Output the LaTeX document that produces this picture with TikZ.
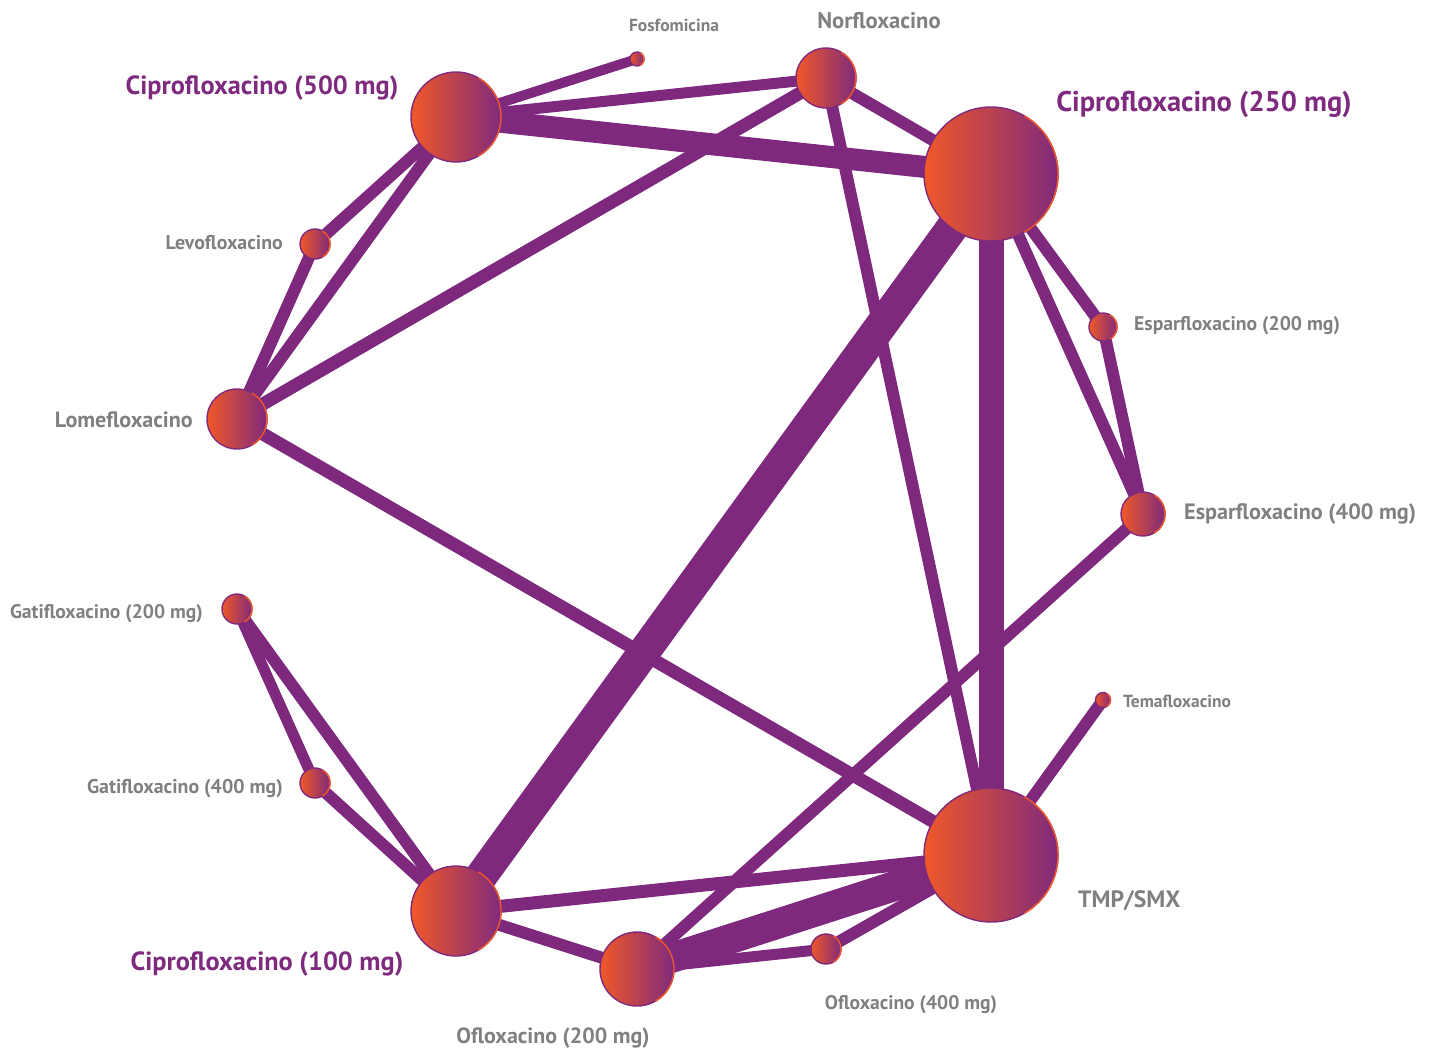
\documentclass[tikz,border=0pt]{standalone}
\usepackage{fontspec}
\setmainfont{PT Sans}
\usetikzlibrary{backgrounds,calc}
\definecolor{edgepur}{RGB}{126,40,126}
\definecolor{nodeor}{RGB}{240,88,40}
\definecolor{nodepur}{RGB}{128,42,124}
\definecolor{labgray}{RGB}{128,128,130}
\definecolor{labpur}{RGB}{126,42,126}
\tikzset{
  drug/.style={circle, inner sep=0pt, minimum size=#1, left color=nodeor, right color=nodepur, draw=nodepur, line width=1.4pt},
  link/.style={draw=edgepur, line width=#1},
  glab/.style={text=labgray, font=\bfseries\fontsize{#1}{#1}\selectfont, inner sep=0pt},
  plab/.style={text=labpur, font=\bfseries\fontsize{#1}{#1}\selectfont, inner sep=0pt}
}
\begin{document}
\begin{tikzpicture}[x=1pt,y=-1pt]
\useasboundingbox (0,0) rectangle (1434,1053);
% nodes
\node[drug=14pt] (fos) at (637,59) {};
\node[drug=60pt] (nor) at (826,78) {};
\node[drug=90pt] (c500) at (456,117) {};
\node[drug=134pt] (c250) at (991,174) {};
\node[drug=30pt] (levo) at (315,244) {};
\node[drug=28pt] (esp200) at (1103,327) {};
\node[drug=60pt] (lome) at (237,419) {};
\node[drug=44pt] (esp400) at (1143,514) {};
\node[drug=30pt] (gat200) at (237,609) {};
\node[drug=15pt] (tema) at (1103,700) {};
\node[drug=30pt] (gat400) at (315,783) {};
\node[drug=134pt] (tmp) at (991,855) {};
\node[drug=90pt] (c100) at (456,911) {};
\node[drug=74pt] (ofl200) at (637,969) {};
\node[drug=30pt] (ofl400) at (826,949) {};
% outline right halves orange
\foreach \n/\r in {fos/7,nor/30,c500/45,c250/67,levo/15,esp200/14,lome/30,esp400/22,gat200/15,tema/7.5,gat400/15,tmp/67,c100/45,ofl200/37,ofl400/15}{
  \draw[nodeor, line width=1.4pt] ($(\n.center)+(-60:\r pt)$) arc[start angle=-60, end angle=60, radius=\r pt];
}
% edges
\begin{scope}[on background layer]
\draw[link=10pt] (c500.center) -- (fos.center);
\draw[link=11pt] (c500.center) -- (nor.center);
\draw[link=22pt] (c500.center) -- (c250.center);
\draw[link=12pt] (c500.center) -- (levo.center);
\draw[link=12pt] (c500.center) -- (lome.center);
\draw[link=12pt] (levo.center) -- (lome.center);
\draw[link=13pt] (lome.center) -- (nor.center);
\draw[link=13pt] (lome.center) -- (tmp.center);
\draw[link=12pt] (nor.center) -- (c250.center);
\draw[link=12pt] (nor.center) -- (tmp.center);
\draw[link=12pt] (c250.center) -- (esp200.center);
\draw[link=12pt] (c250.center) -- (esp400.center);
\draw[link=12pt] (esp200.center) -- (esp400.center);
\draw[link=25pt] (c250.center) -- (tmp.center);
\draw[link=32pt] (c250.center) -- (c100.center);
\draw[link=12pt] (esp400.center) -- (ofl200.center);
\draw[link=12pt] (tema.center) -- (tmp.center);
\draw[link=11pt] (gat200.center) -- (gat400.center);
\draw[link=12pt] (gat200.center) -- (c100.center);
\draw[link=12pt] (gat400.center) -- (c100.center);
\draw[link=13pt] (c100.center) -- (tmp.center);
\draw[link=12pt] (c100.center) -- (ofl200.center);
\draw[link=30pt] (ofl200.center) -- (tmp.center);
\draw[link=12pt] (ofl400.center) -- (tmp.center);
\draw[link=11pt] (ofl200.center) -- (ofl400.center);
\end{scope}
% labels
\node[glab=17.5] (lfos) at (674,25) {Fosfomicina};
\node[glab=22.6] (lnor) at (879,21) {Norfloxacino};
\node[plab=26.3] (lc500) at (262,88) {Ciprofloxacino (500 mg)};
\node[plab=28.5] (lc250) at (1204,104) {Ciprofloxacino (250 mg)};
\node[glab=19.9,anchor=east] (llevo) at (283,243) {Levofloxacino};
\node[glab=19.7,anchor=west] (lesp200) at (1134,326) {Esparfloxacino (200 mg)};
\node[glab=22.1,anchor=east] (llome) at (193,420) {Lomefloxacino};
\node[glab=22.2,anchor=west] (lesp400) at (1184,514) {Esparfloxacino (400 mg)};
\node[glab=19.6,anchor=east] (lgat200) at (203,614) {Gatifloxacino (200 mg)};
\node[glab=17.5,anchor=west] (ltema) at (1123,701) {Temafloxacino};
\node[glab=19.9,anchor=east] (lgat400) at (283,789) {Gatifloxacino (400 mg)};
\node[glab=23.7,anchor=west] (ltmp) at (1078,901) {TMP/SMX};
\node[plab=26.3] (lc100) at (267,964) {Ciprofloxacino (100 mg)};
\node[glab=19.6] (lofl400) at (911,1005) {Ofloxacino (400 mg)};
\node[glab=22] (lofl200) at (553,1038) {Ofloxacino (200 mg)};
\end{tikzpicture}
\end{document}
